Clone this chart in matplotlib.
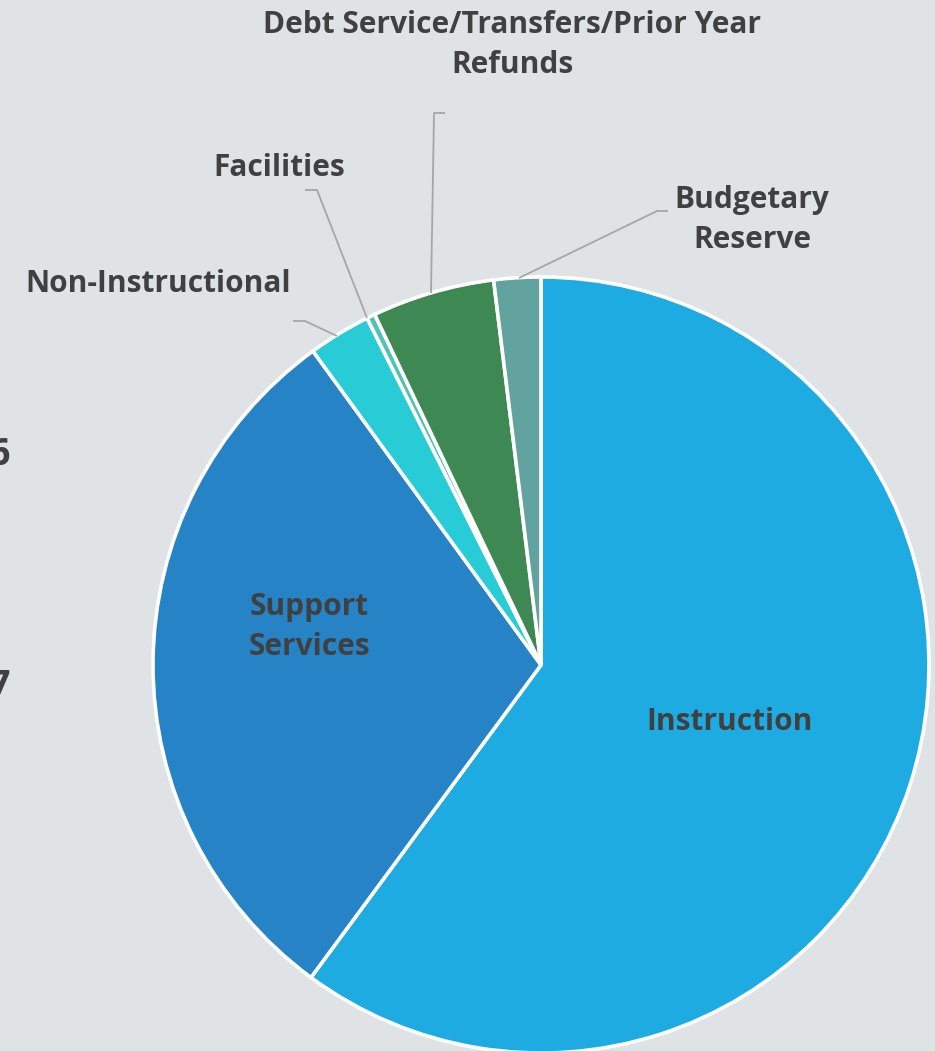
import matplotlib
matplotlib.use("Agg")
import matplotlib.pyplot as plt

categories = ["Instruction", "Support\nServices", "Non-Instructional", "Facilities",
              "Debt Service/Transfers/Prior Year\nRefunds", "Budgetary\nReserve"]
shares = [60.1, 29.9, 2.6, 0.35, 5.1, 1.95]
colors = ["#1eabe2", "#2683c6", "#27ccd6", "#4fc3b0", "#3e8853", "#62a3a0"]

W, H = 935, 1051
BG = "#dfe3e6"
TXT = "#404040"
LEAD = "#a6a6a6"

fig = plt.figure(figsize=(W / 100, H / 100), dpi=100, facecolor=BG)
ax = fig.add_axes([0, 0, 1, 1])
ax.set_facecolor(BG)

cx, cy, r = 541, H - 665, 388
ax.pie(shares, colors=colors, startangle=90, counterclock=False,
       center=(cx, cy), radius=r, frame=True,
       wedgeprops=dict(edgecolor="white", linewidth=2.6))
ax.set_xlim(0, W)
ax.set_ylim(0, H)
ax.set_aspect("equal")
ax.axis("off")

font = dict(family="Open Sans", weight="bold", color=TXT, fontsize=21.5)

def T(x, y, s, **kw):
    d = dict(font)
    d.update(kw)
    ax.text(x, H - y, s, ha="center", va="center", linespacing=1.42, **d)

# labels
T(730, 722, categories[0])
T(309, 627, categories[1])
T(158, 284, categories[2])
T(279, 168, categories[3])
T(512, 45, categories[4])
T(752, 220, categories[5])

# cut-off text at left edge (continues beyond the visible area)
ax.text(10, H - 455, "6", ha="right", va="center", family="Open Sans", weight="bold",
        color=TXT, fontsize=27)
ax.text(10, H - 687, "7", ha="right", va="center", family="Open Sans", weight="bold",
        color=TXT, fontsize=27)

# leader lines
leaders = [
    [(293, 321), (305, 321), (337, 336)],
    [(305, 190), (317, 190), (367, 318)],
    [(445, 113), (434, 113), (431, 293)],
    [(668, 211), (657, 211), (519, 278)],
]
for pts in leaders:
    xs = [p[0] for p in pts]
    ys = [H - p[1] for p in pts]
    ax.plot(xs, ys, color=LEAD, lw=1.3, solid_capstyle="butt")

fig.savefig("out.png", dpi=100, facecolor=BG)
